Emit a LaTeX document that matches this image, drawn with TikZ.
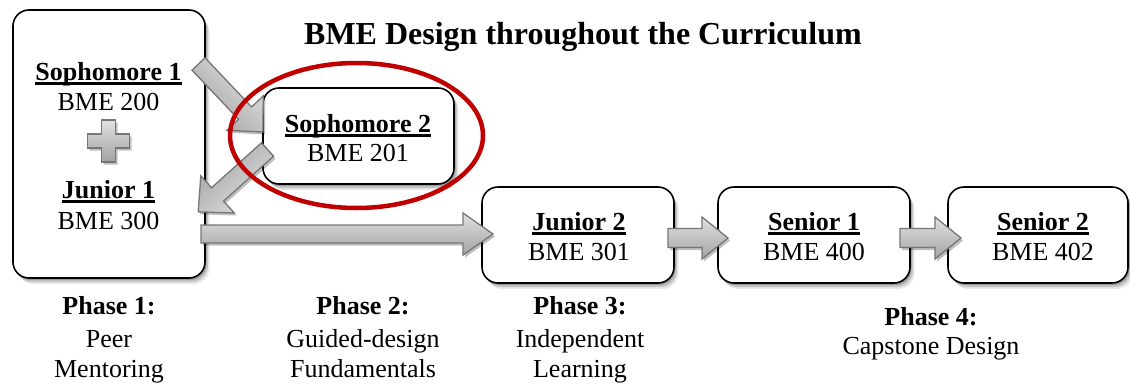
\documentclass[tikz,border=0pt]{standalone}
\usepackage{fontspec}
\setmainfont{Liberation Serif}
\usetikzlibrary{calc,shadows}

\definecolor{ringred}{RGB}{192,0,0}
\definecolor{arrowedge}{RGB}{118,118,118}

% thick underline for the course headings
\newcommand\ulbox[1]{\setbox0\hbox{#1}\rlap{\rule[-4.6pt]{\wd0}{2.3pt}}\box0}

% block arrow from #1 (tail centre) to #2 (tip):
% #3 shaft width, #4 head width, #5 head length (all in pt)
\newcommand\blockarrow[5]{%
  \pgfpointdiff{\pgfpointanchor{#1}{center}}{\pgfpointanchor{#2}{center}}%
  \pgfgetlastxy\bax\bay
  \pgfmathsetmacro\baang{atan2(\bay,\bax)}%
  \pgfmathsetmacro\balen{veclen(\bax,\bay)}%
  \begin{scope}[shift={(#1)}, rotate=\baang, x=1pt, y=1pt]
    \path[blockarrowstyle, shading angle=\baang]
      (0,-#3/2) -- (\balen-#5,-#3/2) -- (\balen-#5,-#4/2) -- (\balen,0)
      -- (\balen-#5,#4/2) -- (\balen-#5,#3/2) -- (0,#3/2) -- cycle;
  \end{scope}}

\tikzset{
  softshadow/.style={
    drop shadow={shadow xshift=1.5pt, shadow yshift=-2pt, opacity=.22, fill=black},
    drop shadow={shadow xshift=3pt, shadow yshift=-4pt, opacity=.15, fill=black},
    drop shadow={shadow xshift=4.5pt, shadow yshift=-6pt, opacity=.09, fill=black}},
  card/.style={draw=black, line width=1.6pt, rounded corners=16pt, fill=white,
    inner sep=0pt, softshadow},
  blockarrowstyle/.style={draw=arrowedge, line width=1.3pt, line join=miter,
    top color=black!12, middle color=white, bottom color=black!36,
    drop shadow={shadow xshift=2pt, shadow yshift=-2.5pt, opacity=.25, fill=black}},
  coursehead/.style={font=\fontsize{26}{30}\selectfont\bfseries, anchor=base, inner sep=0pt},
  coursecode/.style={font=\fontsize{26}{30}\selectfont, anchor=base, inner sep=0pt},
  phasehead/.style={font=\fontsize{26}{30}\selectfont\bfseries, anchor=base, inner sep=0pt},
  phasetext/.style={font=\fontsize{26}{30}\selectfont, anchor=base, inner sep=0pt},
}

\begin{document}
\begin{tikzpicture}[x=1pt, y=-1pt]
\useasboundingbox (0,0) rectangle (1130,383);

% course boxes
\node[card, minimum width=192pt, minimum height=268pt] (p1) at (109,144) {};
\node[card, minimum width=191pt, minimum height=96pt] (s2) at (358.5,136) {};
\node[card, minimum width=192pt, minimum height=96pt] (j2) at (578,235) {};
\node[card, minimum width=192pt, minimum height=96pt] (sr1) at (814,235) {};
\node[card, minimum width=180pt, minimum height=96pt] (sr2) at (1038,235) {};

% title
\node[font=\fontsize{32}{38}\selectfont\bfseries, anchor=base, inner sep=0pt]
  (title) at (583,44) {BME Design throughout the Curriculum};

% box contents
\node[coursehead] (t-so1) at (108.5,80) {\ulbox{Sophomore 1}};
\node[coursecode] (c-so1) at (108.5,110) {BME 200};
\node[coursehead] (t-ju1) at (108.5,198) {\ulbox{Junior 1}};
\node[coursecode] (c-ju1) at (108.5,229) {BME 300};
\node[coursehead] (t-so2) at (358,132) {\ulbox{Sophomore 2}};
\node[coursecode] (c-so2) at (358,161) {BME 201};
\node[coursehead] (t-ju2) at (579,230) {\ulbox{Junior 2}};
\node[coursecode] (c-ju2) at (579,260) {BME 301};
\node[coursehead] (t-se1) at (814,230) {\ulbox{Senior 1}};
\node[coursecode] (c-se1) at (814,260) {BME 400};
\node[coursehead] (t-se2) at (1043,230) {\ulbox{Senior 2}};
\node[coursecode] (c-se2) at (1043,260) {BME 402};

% plus sign joining the two phase-1 courses
\begin{scope}[shift={(108.5,141)}]
  \path[blockarrowstyle]
    (-7,-21) -- (7,-21) -- (7,-7) -- (21,-7) -- (21,7) -- (7,7) -- (7,21)
    -- (-7,21) -- (-7,7) -- (-21,7) -- (-21,-7) -- (-7,-7) -- cycle;
\end{scope}

% arrow end points
\coordinate (a1tail) at (198.5,64);
\coordinate (a1tip) at (263,132);
\coordinate (a2tail) at (267.5,149.5);
\coordinate (a2tip) at (198,212);
\coordinate (a3tail) at (201,234);
\coordinate (a3tip) at (493,234);
\coordinate (a4tail) at (668,238);
\coordinate (a4tip) at (728,238);
\coordinate (a5tail) at (900,238);
\coordinate (a5tip) at (961,238);

\blockarrow{a1tail}{a1tip}{18}{50}{26}
\blockarrow{a2tail}{a2tip}{18}{50}{26}
\blockarrow{a3tail}{a3tip}{18}{42}{30}
\blockarrow{a4tail}{a4tip}{19}{42}{26}
\blockarrow{a5tail}{a5tip}{19}{42}{26}

% highlight ring round Sophomore 2
\draw[ringred, line width=4.5pt] (356.5,135.5) ellipse [x radius=126.5, y radius=72.5];

% phase captions
\node[phasehead] (ph1) at (109,314) {Phase 1:};
\node[phasetext] (ph1a) at (109,347) {Peer};
\node[phasetext] (ph1b) at (109,377) {Mentoring};
\node[phasehead] (ph2) at (363,314) {Phase 2:};
\node[phasetext] (ph2a) at (363,347) {Guided-design};
\node[phasetext] (ph2b) at (363,377) {Fundamentals};
\node[phasehead] (ph3) at (580,314) {Phase 3:};
\node[phasetext] (ph3a) at (580,347) {Independent};
\node[phasetext] (ph3b) at (580,377) {Learning};
\node[phasehead] (ph4) at (931,325) {Phase 4:};
\node[phasetext] (ph4a) at (931,354) {Capstone Design};
\end{tikzpicture}
\end{document}
